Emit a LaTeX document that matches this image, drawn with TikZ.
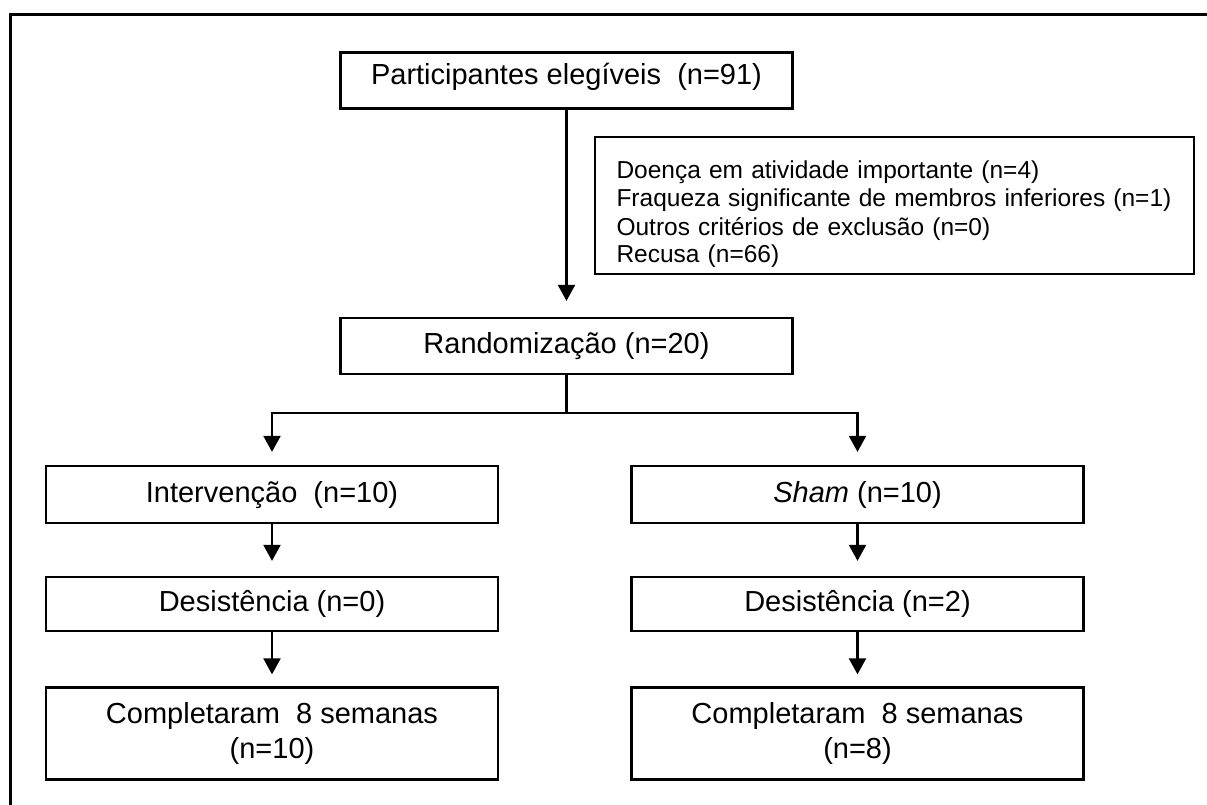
\documentclass[tikz,border=0pt]{standalone}
\usepackage{fontspec}
\setmainfont{Liberation Sans}
\usetikzlibrary{arrows.meta}
\begin{document}
\begin{tikzpicture}[x=1pt,y=-1pt,
  box/.style={draw=black, line width=2.3pt, rectangle, inner sep=0pt,
    font=\fontsize{29}{35}\selectfont, align=center},
  wbox/.style={box, minimum width=452pt},
  one/.style={text height=21pt, text depth=6pt},
  conn/.style={line width=2.2pt},
  arr/.style={conn, -{Triangle[width=17pt,length=16pt]}},
  frameline/.style={line width=3pt}]
\useasboundingbox (0,0) rectangle (1207,805);
\draw[frameline] (10,805) -- (10,15) -- (1207,15);

\node[wbox, minimum height=56pt, text height=21pt, text depth=13pt] (part) at (566.5,80.5)
  {Participantes elegíveis\ \ (n=91)};
\node[box, minimum width=599pt, minimum height=137pt, text width=556pt, align=left,
  text height=36pt, text depth=89pt, font=\fontsize{24.5}{28}\selectfont] (excl) at (894.5,205.5)
  {Doença em atividade importante (n=4)\\
   Fraqueza significante de membros inferiores (n=1)\\
   Outros critérios de exclusão (n=0)\\
   Recusa (n=66)};
\node[wbox, one, minimum height=56pt] (rand) at (566.5,346) {Randomização (n=20)};

\node[wbox, one, minimum height=57pt] (int) at (272,494.5) {Intervenção\ \ (n=10)};
\node[wbox, one, minimum height=57pt] (sham) at (857.5,494.5) {{\itshape Sham} (n=10)};
\node[wbox, one, minimum height=54pt] (desl) at (272,604) {Desistência (n=0)};
\node[wbox, one, minimum height=54pt] (desr) at (857.5,604) {Desistência (n=2)};
\node[wbox, minimum height=92pt] (coml) at (272,733.5) {Completaram\ \ 8 semanas\\(n=10)};
\node[wbox, minimum height=92pt] (comr) at (857.5,733.5) {Completaram\ \ 8 semanas\\(n=8)};

\coordinate (split) at (566.5,413);
\draw[arr, shorten >=16pt] (part.south) -- (rand.north);
\draw[conn] (rand.south) -- (split);
\draw[arr, shorten >=13pt] (split) -| (int.north);
\draw[arr, shorten >=13pt] (split) -| (sham.north);
\draw[arr, shorten >=15pt] (int.south) -- (desl.north);
\draw[arr, shorten >=15pt] (sham.south) -- (desr.north);
\draw[arr, shorten >=12pt] (desl.south) -- (coml.north);
\draw[arr, shorten >=12pt] (desr.south) -- (comr.north);
\end{tikzpicture}
\end{document}
